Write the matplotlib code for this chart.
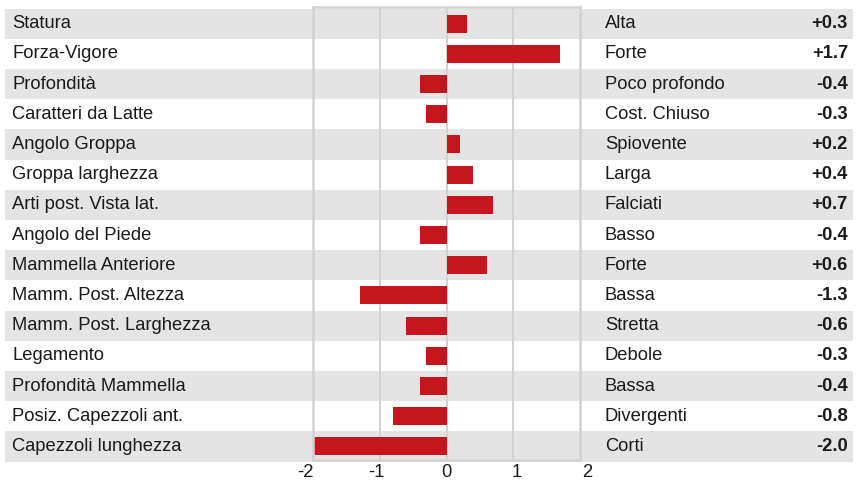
import matplotlib.pyplot as plt
import matplotlib.transforms as mtransforms
from matplotlib.patches import Rectangle

plt.rcParams['font.family'] = ['Liberation Sans', 'DejaVu Sans']

caratteri = ['Statura', 'Forza-Vigore', 'Profondità', 'Caratteri da Latte',
             'Angolo Groppa', 'Groppa larghezza', 'Arti post. Vista lat.',
             'Angolo del Piede', 'Mammella Anteriore', 'Mamm. Post. Altezza',
             'Mamm. Post. Larghezza', 'Legamento', 'Profondità Mammella',
             'Posiz. Capezzoli ant.', 'Capezzoli lunghezza']
descrizioni = ['Alta', 'Forte', 'Poco profondo', 'Cost. Chiuso', 'Spiovente',
               'Larga', 'Falciati', 'Basso', 'Forte', 'Bassa', 'Stretta',
               'Debole', 'Bassa', 'Divergenti', 'Corti']
valori = [0.3, 1.7, -0.4, -0.3, 0.2, 0.4, 0.7, -0.4, 0.6, -1.3, -0.6,
          -0.3, -0.4, -0.8, -2.0]
ticks = [-2, -1, 0, 1, 2]

BAR = '#c4161c'
BAND = '#e4e4e4'
LINE = '#d2d2d2'
TXT = '#1a1a1a'
FS = 13.2

fig = plt.figure(figsize=(8.65, 4.83), dpi=100)
ax = fig.add_axes([313 / 865, 23 / 483, 267 / 865, 453 / 483])
n = len(valori)

trans = mtransforms.blended_transform_factory(fig.transFigure, ax.transData)

# righe alternate
for i in range(n):
    if i % 2 == 0:
        ax.add_patch(Rectangle((5 / 865, i - 0.5), 848 / 865, 1.0,
                               transform=trans, color=BAND, lw=0,
                               clip_on=False, zorder=0))
    ax.text(12 / 865, i, caratteri[i], transform=trans, ha='left',
            va='center', fontsize=FS, color=TXT)
    ax.text(605 / 865, i, descrizioni[i], transform=trans, ha='left',
            va='center', fontsize=FS, color=TXT)
    ax.text(848 / 865, i, f'{valori[i]:+.1f}', transform=trans, ha='right',
            va='center', fontsize=FS, color=TXT, fontweight='bold')

for t in ticks[1:-1]:
    ax.axvline(t, color=LINE, lw=1.5, zorder=1)

ax.barh(range(n), valori, height=0.6, color=BAR, zorder=2)

ax.set_xlim(-2, 2)
ax.set_ylim(n - 0.55, -0.55)
ax.patch.set_visible(False)
for s in ax.spines.values():
    s.set_color(LINE)
    s.set_linewidth(1.8)
ax.set_yticks([])
ax.set_xticks([])

# etichette dell'asse, un po' più larghe della griglia come nell'originale
xtrans = ax.get_xaxis_transform()
for t in ticks:
    ax.text(t * 1.055, -0.027, str(t), transform=xtrans, ha='center',
            va='center', fontsize=FS, color=TXT, clip_on=False)

fig.savefig('out.png', dpi=100)
